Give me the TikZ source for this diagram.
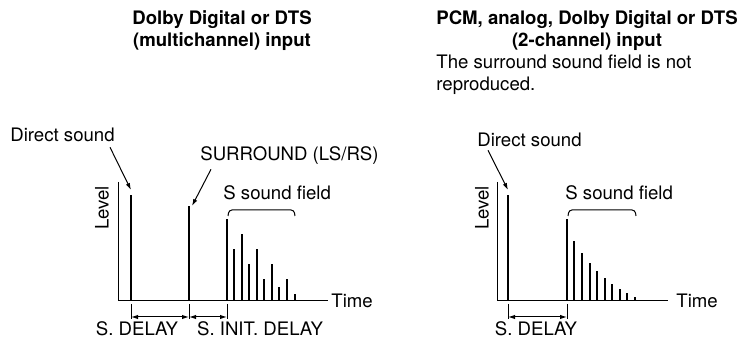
\documentclass[tikz,border=0pt]{standalone}
\usepackage{fontspec}
\setmainfont{TeX Gyre Heros}
\usetikzlibrary{arrows.meta,calc}

\begin{document}
\begin{tikzpicture}[x=0.5pt, y=-0.5pt, >={Latex[length=3.5pt,width=2.2pt]},
  axis/.style={line width=0.5pt},
  bar/.style={line width=1.1pt},
  dim/.style={<->, line width=0.5pt},
  ptr/.style={->, line width=0.5pt},
  lbl/.style={inner sep=0pt, font=\fontsize{9.3}{11}\selectfont},
  ttl/.style={inner sep=0pt, align=center, font=\fontsize{9.3}{11}\selectfont\bfseries}]
  % units are pixels of the 738 x 340 reference, y pointing down
  \useasboundingbox (0,0) rectangle (738,340);

  % Titles
  \node[ttl] (ttlmulti) at (222,31) {Dolby Digital or DTS\\(multichannel) input};
  \node[ttl] (ttltwo) at (587,31) {PCM, analog, Dolby Digital or DTS\\(2-channel) input};
  \node[lbl, anchor=north west, align=left] (note) at (436,54) {The surround sound field is not\\reproduced.};

  % ---- Left: multichannel input ----
  \draw[axis] (118,182) -- (118,301) -- (328,301);
  \node[lbl, anchor=west] (timeL) at (331,301) {Time};
  \node[lbl, rotate=90] (levelL) at (102,208) {Level};
  \foreach \x/\h in {131/195, 189/206, 227/219, 234/249, 242/234, 249/264,
                     257/249, 264/279, 272/264, 279/287, 287/279, 295/294}
    \draw[bar] (\x,301) -- (\x,\h);

  % pointers to the direct and surround sound
  \coordinate (directL) at (131,190);
  \coordinate (surr) at (192,206);
  \node[lbl, anchor=west] (dsL) at (10,135) {Direct sound};
  \node[lbl, anchor=west] (surrlbl) at (200,156) {SURROUND (LS/RS)};
  \draw[ptr] ($(dsL.south east)+(-5,5)$) -- (directL);
  \draw[ptr] ($(surrlbl.south west)+(11,4)$) -- (surr);

  % S sound field brace
  \node[lbl, anchor=west] (sfL) at (223,193) {S sound field};
  \draw[axis, rounded corners=1.5pt] (228,216) -- (229,210) -- (294,210) -- (295,216);

  % delays
  \foreach \x in {131,189,227}
    \draw[axis] (\x,304) -- (\x,319);
  \coordinate (d0) at (131,317);
  \coordinate (d1) at (189,317);
  \coordinate (d2) at (227,317);
  \draw[dim] (d0) -- (d1);
  \draw[dim] (d1) -- (d2);
  \node[lbl, anchor=base] (sdelL) at (137,336) {S. DELAY};
  \node[lbl, anchor=base] (sinit) at (260,336) {S. INIT. DELAY};

  % ---- Right: 2-channel input ----
  \draw[axis] (497,182) -- (497,301) -- (668,301);
  \node[lbl, anchor=west] (timeR) at (676,301) {Time};
  \node[lbl, rotate=90] (levelR) at (482,208) {Level};
  \foreach \x/\h in {508/195, 567/219, 574/241, 582/253, 590/263, 597/271,
                     605/278, 612/284, 620/289, 627/293, 635/297}
    \draw[bar] (\x,301) -- (\x,\h);

  \coordinate (directR) at (508,190);
  \node[lbl, anchor=west] (dsR) at (477,140) {Direct sound};
  \draw[ptr] ($(dsR.south west)+(11,3)$) -- (directR);

  \node[lbl, anchor=west] (sfR) at (565,193) {S sound field};
  \draw[axis, rounded corners=1.5pt] (568,216) -- (569,210) -- (635,210) -- (636,216);

  \foreach \x in {508,567}
    \draw[axis] (\x,304) -- (\x,319);
  \coordinate (r0) at (508,317);
  \coordinate (r1) at (567,317);
  \draw[dim] (r0) -- (r1);
  \node[lbl, anchor=base] (sdelR) at (536,336) {S. DELAY};
\end{tikzpicture}
\end{document}
